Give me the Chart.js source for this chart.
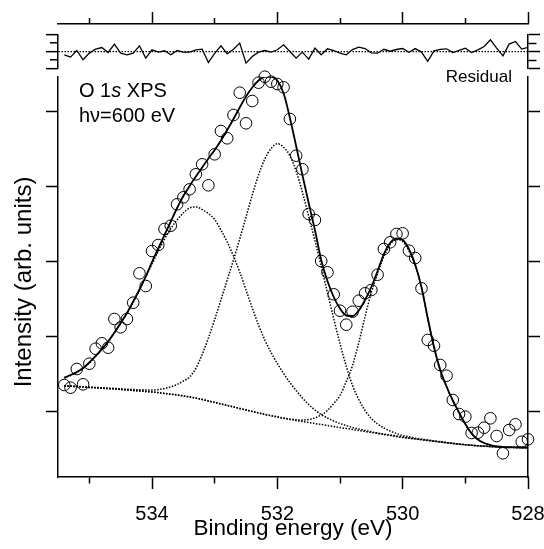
<!DOCTYPE html>
<html><head><meta charset="utf-8">
<script src="https://cdn.jsdelivr.net/npm/chart.js@4"></script>
<style>
html,body{margin:0;padding:0;background:#fff;}
#wrap{position:relative;width:544px;height:549px;overflow:hidden;font-family:'Liberation Sans',Arial,sans-serif;color:#000;}
canvas{position:absolute;left:0;top:0;}
.lbl{position:absolute;white-space:nowrap;}
#ytitle{position:absolute;left:-106.6px;top:268px;width:260px;height:28px;line-height:28px;font-size:24px;text-align:center;transform:rotate(-90deg);transform-origin:50% 50%;white-space:nowrap;}
</style></head><body>
<div id="wrap">
<canvas id="cTop" width="544" height="549"></canvas>
<canvas id="cRes" width="544" height="549"></canvas>
<canvas id="cMain" width="544" height="549"></canvas>
<div class="lbl" style="left:79px;top:78px;font-size:20px;line-height:25px;">O 1<i>s</i> XPS<br>hν=600 eV</div>
<div class="lbl" style="left:400px;width:112px;text-align:right;top:67px;font-size:17px;line-height:20px;">Residual</div>
<div id="ytitle">Intensity (arb. units)</div>
</div>
<script>
// Binding energy grid (eV)
const energy = [535.4,535.3,535.2,535.1,535.0,534.9,534.8,534.7,534.6,534.5,
534.4,534.3,534.2,534.1,534.0,533.9,533.8,533.7,533.6,533.5,
533.4,533.3,533.2,533.1,533.0,532.9,532.8,532.7,532.6,532.5,
532.4,532.3,532.2,532.1,532.0,531.9,531.8,531.7,531.6,531.5,
531.4,531.3,531.2,531.1,531.0,530.9,530.8,530.7,530.6,530.5,
530.4,530.3,530.2,530.1,530.0,529.9,529.8,529.7,529.6,529.5,
529.4,529.3,529.2,529.1,529.0,528.9,528.8,528.7,528.6,528.5,
528.4,528.3,528.2,528.1,528.0];

// Measured intensity (open circles)
const measured = [101.7,99.0,117.7,102.4,123.0,138.0,143.4,139.0,167.7,159.4,
167.7,184.0,213.4,200.7,235.7,241.7,257.7,261.0,282.4,289.4,
297.4,312.4,322.4,301.4,332.4,355.7,348.4,371.7,394.0,363.4,
385.7,404.0,410.0,405.0,402.7,399.4,367.7,331.0,317.4,272.7,
266.7,225.7,214.4,192.4,176.0,162.0,175.0,186.0,193.4,196.7,
212.0,237.7,244.4,252.7,253.4,236.0,228.7,198.4,146.7,141.0,
121.7,111.0,86.7,72.7,70.0,53.7,54.0,59.0,68.4,50.7,
33.4,56.7,62.4,45.0,47.4];

// Total fit (solid line)
const fitTotal = [109.0,111.7,114.7,118.7,124.2,130.7,137.7,145.2,154.2,163.7,
173.7,185.2,197.2,210.2,224.7,238.2,251.7,265.2,278.7,290.7,
300.7,310.2,319.2,328.2,336.7,346.2,356.7,367.7,379.2,390.2,
399.2,406.2,410.2,410.2,406.2,393.5,369.0,340.7,311.7,283.7,
256.7,226.7,205.7,189.7,178.2,171.2,170.7,176.2,186.7,199.7,
215.7,232.7,243.7,248.2,246.7,237.7,222.2,199.7,168.7,139.7,
116.7,100.2,86.2,74.2,62.7,53.2,47.2,43.7,41.7,40.4,
39.7,39.4,39.3,39.2,39.1];

// Shirley-type background (dotted)
const background = [100.7,100.4,100.1,99.7,99.2,98.9,98.5,98.1,97.7,97.2,
96.7,96.2,95.7,95.2,94.7,94.0,93.2,92.5,91.7,90.7,
89.7,88.5,87.2,85.7,84.2,82.7,81.2,79.7,78.2,76.7,
75.2,73.7,72.2,70.9,69.7,68.4,67.2,66.2,65.2,64.2,
63.2,62.2,61.2,60.2,59.2,58.2,57.2,56.2,55.2,54.2,
53.2,52.2,51.2,50.2,49.2,48.4,47.7,46.9,46.2,45.4,
44.7,43.9,43.2,42.5,41.9,41.4,40.9,40.5,40.1,39.8,
39.6,39.4,39.3,39.2,39.1];

// Component near 533.3 eV (on background, dotted)
const componentA = [108.7,111.2,114.2,118.2,123.7,130.2,137.2,144.7,153.7,163.2,
173.2,184.7,196.7,209.7,222.7,235.7,247.7,258.2,266.7,273.7,
278.7,279.7,277.2,273.2,267.2,256.7,244.7,230.7,214.7,196.7,
178.7,161.7,146.7,134.2,123.2,113.2,104.2,96.2,88.7,82.2,
76.7,72.2,68.7,65.7,63.2,61.2,59.2,57.7,56.2,54.9,
53.7,52.7,51.7,50.7,49.7,48.8,48.0,47.2,46.4,45.6,
44.8,44.0,43.3,42.6,42.0,41.4,40.9,40.5,40.1,39.8,
39.6,39.4,39.3,39.2,39.1];

// Component near 532.0 eV (on background, dotted)
const componentB = [100.9,100.6,100.3,100.0,99.5,99.3,98.9,98.6,98.3,97.9,
97.5,97.2,96.9,96.8,96.7,97.2,98.2,99.9,102.2,105.7,
109.7,118.4,132.2,148.7,167.2,186.7,206.7,226.7,247.7,269.7,
291.7,311.7,327.7,338.2,343.0,339.5,331.0,315.5,294.5,270.5,
246.0,220.5,194.0,168.0,143.0,120.5,101.2,87.2,76.2,68.2,
62.7,58.7,55.7,53.2,51.2,49.9,48.5,47.5,46.7,45.8,
45.0,44.2,43.4,42.7,42.1,41.5,41.0,40.6,40.2,39.9,
39.6,39.4,39.3,39.2,39.1];

// Component near 530.1 eV (on background, dotted)
const componentC = [100.8,100.5,100.2,99.8,99.3,99.0,98.6,98.2,97.8,97.3,
96.8,96.3,95.8,95.3,94.8,94.1,93.3,92.6,91.8,90.8,
89.8,88.6,87.3,85.8,84.3,82.8,81.3,79.8,78.3,76.8,
75.3,73.9,72.4,71.1,69.9,68.7,67.7,66.9,66.7,67.2,
68.7,71.7,76.2,83.2,91.2,105.2,121.2,144.2,170.2,194.2,
213.2,230.2,242.2,247.2,245.2,235.8,221.1,198.8,168.0,139.1,
116.3,99.8,85.9,73.9,62.4,53.1,47.1,43.6,41.6,40.3,
39.7,39.4,39.3,39.2,39.1];

// Residual (top panel)
const residual = [-3.3,-5.6,1.0,-8.3,-1.6,2.4,4.0,-1.0,7.4,-1.6,
-3.3,-1.6,5.7,-6.6,1.7,-0.6,0.7,-3.3,1.0,-0.6,
-0.6,1.7,2.4,-11.0,-1.8,5.7,-2.3,2.2,8.4,-11.6,
-5.0,-0.6,1.0,-0.6,1.7,6.7,0.0,-6.6,-0.6,-7.6,
3.4,-3.3,2.7,1.0,-1.6,-3.3,1.9,4.4,3.0,-1.3,
-1.7,2.2,0.3,2.0,3.0,-0.8,2.9,-0.6,-9.9,0.6,
2.2,2.7,-1.0,1.2,3.4,-1.0,1.7,5.0,11.7,3.4,
-4.3,7.4,10.0,2.4,4.2];

// Axis ticks / ranges
const xMajorTicks = [528, 530, 532, 534];
const xMinorTicks = [529, 531, 533, 535];
const xRange = [528, 535.5];
const yMainTicks = [75, 150, 225, 300, 375];
const yMainRange = [9.7, 409.7];
const resMajorTicks = [-17, 0, 17];
const resMinorTicks = [-8.5, 8.5];
const resRange = [-17, 17];

Chart.defaults.font.family = "'Liberation Sans', Arial, sans-serif";
Chart.defaults.color = '#000';

const pts = ys => energy.map((x, i) => ({x: x, y: ys[i]}));
const setTicks = list => (axis) => { axis.ticks = list.slice().sort((a,b)=>a-b).map(v => ({value: v})); };
const dashFor = (minor, dash) => (ctx) => (ctx.tick && minor.includes(ctx.tick.value)) ? dash : [];
const BORDER = {display: true, color: '#000', width: 1.5};
const common = {
  responsive: false, animation: false, events: [], devicePixelRatio: 1,
  plugins: {legend: {display: false}, tooltip: {enabled: false}}
};
const dotted = {showLine: true, borderColor: '#000', borderWidth: 1.5, borderDash: [1.5, 1.5],
  pointRadius: 0, cubicInterpolationMode: 'monotone'};

// --- top axis ---
new Chart(document.getElementById('cTop'), {
  type: 'scatter',
  data: {datasets: []},
  options: Object.assign({}, common, {
    layout: {padding: {top: 10, left: 58, right: 16, bottom: 519}},
    scales: {
      x: {type: 'linear', position: 'top', min: xRange[0], max: xRange[1], reverse: true,
        afterBuildTicks: setTicks(xMajorTicks.concat(xMinorTicks)),
        afterFit: a => { a.height = 14; },
        border: BORDER,
        grid: {display: true, drawOnChartArea: false, tickLength: 12, tickColor: '#000', tickWidth: 1.5,
          tickBorderDash: dashFor(xMinorTicks, [0, 6, 6, 100])},
        ticks: {display: false}},
      y: {display: false, min: 0, max: 1}
    }
  })
});

// --- residual panel ---
new Chart(document.getElementById('cRes'), {
  type: 'scatter',
  data: {datasets: [{label: 'Residual', data: pts(residual), showLine: true, borderColor: '#000',
    borderWidth: 1.3, pointRadius: 0, tension: 0}]},
  options: Object.assign({}, common, {
    layout: {padding: {top: 34.5, left: 0, right: 0, bottom: 480.5}},
    scales: {
      x: {type: 'linear', display: false, min: xRange[0], max: xRange[1], reverse: true},
      y: {position: 'left', min: resRange[0], max: resRange[1],
        afterBuildTicks: setTicks(resMajorTicks.concat(resMinorTicks)),
        afterFit: a => { a.width = 58; },
        border: {display: true, color: '#000', width: 1.5, dash: [1.5, 1.5]},
        grid: {display: true, drawOnChartArea: true, lineWidth: 1.3,
          color: ctx => (ctx.tick && ctx.tick.value === 0) ? '#000' : 'rgba(0,0,0,0)',
          tickLength: 12, tickColor: '#000', tickWidth: 1.5,
          tickBorderDash: dashFor(resMinorTicks, [0, 4, 8, 100])},
        ticks: {display: false}},
      y2: {position: 'right', min: resRange[0], max: resRange[1],
        afterBuildTicks: setTicks(resMajorTicks.concat(resMinorTicks)),
        afterFit: a => { a.width = 16; },
        border: BORDER,
        grid: {display: true, drawOnChartArea: false, tickLength: 12, tickColor: '#000', tickWidth: 1.5,
          tickBorderDash: dashFor(resMinorTicks, [8, 100])},
        ticks: {display: false}}
    }
  })
});

// --- main panel ---
new Chart(document.getElementById('cMain'), {
  type: 'scatter',
  data: {datasets: [
    {label: 'Data', data: pts(measured), showLine: false, pointStyle: 'circle', pointRadius: 5.8,
      pointBorderWidth: 1, borderColor: '#000', backgroundColor: 'rgba(0,0,0,0)',
      pointBorderColor: '#000', pointBackgroundColor: 'rgba(0,0,0,0)', clip: false},
    {label: 'Fit', data: pts(fitTotal), showLine: true, borderColor: '#000', borderWidth: 1.8,
      pointRadius: 0, cubicInterpolationMode: 'monotone'},
    Object.assign({label: 'Peak 533.3', data: pts(componentA)}, dotted),
    Object.assign({label: 'Peak 532.0', data: pts(componentB)}, dotted),
    Object.assign({label: 'Peak 530.1', data: pts(componentC)}, dotted),
    Object.assign({label: 'Background', data: pts(background)}, dotted)
  ]},
  options: Object.assign({}, common, {
    layout: {padding: {top: 77, left: 0, right: 0, bottom: 0}},
    scales: {
      x: {type: 'linear', position: 'bottom', min: xRange[0], max: xRange[1], reverse: true,
        afterBuildTicks: setTicks(xMajorTicks.concat(xMinorTicks)),
        afterFit: a => { a.height = 72; },
        border: BORDER,
        grid: {display: true, drawOnChartArea: false, tickLength: 12, tickColor: '#000', tickWidth: 1.5,
          tickBorderDash: dashFor(xMinorTicks, [6, 100])},
        ticks: {display: true, autoSkip: false, maxRotation: 0, padding: 13, color: '#000',
          font: {size: 20}, callback: v => xMajorTicks.includes(v) ? String(v) : ''},
        title: {display: true, text: 'Binding energy (eV)', color: '#000', font: {size: 22.5},
          padding: {top: 0, bottom: 7}}},
      y: {position: 'left', min: yMainRange[0], max: yMainRange[1],
        afterBuildTicks: setTicks(yMainTicks),
        afterFit: a => { a.width = 58; },
        border: BORDER,
        grid: {display: true, drawOnChartArea: false, tickLength: 12, tickColor: '#000', tickWidth: 1.5},
        ticks: {display: false}},
      y2: {position: 'right', min: yMainRange[0], max: yMainRange[1],
        afterBuildTicks: setTicks(yMainTicks),
        afterFit: a => { a.width = 16; },
        border: BORDER,
        grid: {display: true, drawOnChartArea: false, tickLength: 12, tickColor: '#000', tickWidth: 1.5},
        ticks: {display: false}}
    }
  })
});
</script>
</body></html>
